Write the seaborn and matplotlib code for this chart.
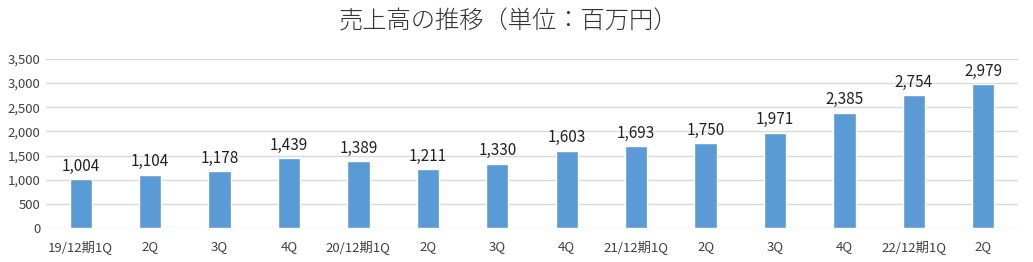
import matplotlib
matplotlib.use("Agg")
import matplotlib.pyplot as plt
import seaborn as sns
import pandas as pd

categories = ["19/12期1Q", "2Q", "3Q", "4Q", "20/12期1Q", "2Q ", "3Q ", "4Q ",
              "21/12期1Q", "2Q  ", "3Q  ", "4Q  ", "22/12期1Q", "2Q   "]
values = [1004, 1104, 1178, 1439, 1389, 1211, 1330, 1603, 1693, 1750, 1971, 2385, 2754, 2979]
yticks = [0, 500, 1000, 1500, 2000, 2500, 3000, 3500]
title = "売上高の推移（単位：百万円）"

sns.set_theme(style="white")
plt.rcParams['font.family'] = ['Noto Sans CJK JP', 'DejaVu Sans']

df = pd.DataFrame({"cat": categories, "val": values})

fig = plt.figure(figsize=(10.33, 2.62), dpi=100)
ax = fig.add_axes([0.0445, 0.130, 0.941, 0.645])
sns.barplot(data=df, x="cat", y="val", color="#5b9bd5", width=0.32, ax=ax,
            saturation=1, zorder=3)
ax.set_ylim(0, 3500)
ax.set_xlim(-0.5, len(categories) - 0.5)
ax.set_yticks(yticks)
ax.set_yticklabels([f"{v:,}" for v in yticks], fontsize=9.5, color="#404040")
ax.set_xticks(range(len(categories)))
ax.set_xticklabels([c.strip() for c in categories], fontsize=9.5, color="#404040")
ax.tick_params(axis="both", length=0, pad=4)
ax.tick_params(axis="x", pad=9)
ax.set_xlabel("")
ax.set_ylabel("")
for s in ax.spines.values():
    s.set_visible(False)
ax.yaxis.grid(True, color="#d9d9d9", linewidth=1, zorder=0)
ax.set_axisbelow(True)
for i, v in enumerate(values):
    ax.text(i, v + 90, f"{v:,}", ha="center", va="bottom", fontsize=11, color="#222222")
fig.text(0.492, 0.918, title, ha="center", va="center", fontsize=17.5, color="#333333",
         fontweight="light")
fig.savefig("out.png", dpi=100)
